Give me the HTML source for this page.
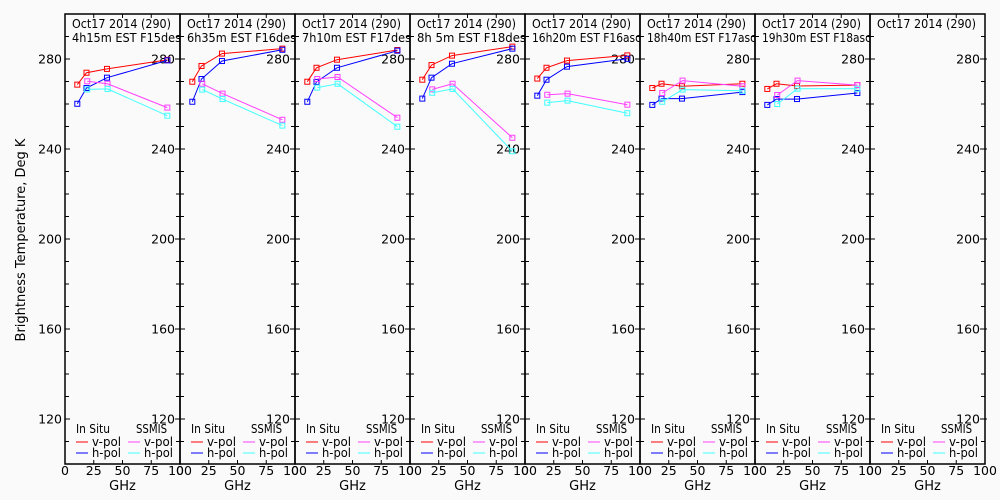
<!DOCTYPE html>
<html><head><meta charset="utf-8"><style>
body{margin:0;background:#fafafa;}
svg{display:block;font-family:"DejaVu Sans","Liberation Sans",sans-serif;}
</style></head><body>
<svg id="chart" width="1000" height="500" viewBox="0 0 1000 500">
<rect x="0" y="0" width="1000" height="500" fill="#fafafa"/>
<text x="25" y="240" font-size="13" text-anchor="middle" transform="rotate(-90 25 240)">Brightness Temperature, Deg K</text>
</svg>
<script>
const panelTitles1 = ["Oct17 2014 (290)","Oct17 2014 (290)","Oct17 2014 (290)","Oct17 2014 (290)","Oct17 2014 (290)","Oct17 2014 (290)","Oct17 2014 (290)","Oct17 2014 (290)"];
const panelTitles2 = ["4h15m EST F15des","6h35m EST F16des","7h10m EST F17des","8h 5m EST F18des","16h20m EST F16asc","18h40m EST F17asc","19h30m EST F18asc",""];
const insituFreq = [10.7, 18.7, 36.5, 89];
const ssmisFreq = [19.35, 37, 89];
const insituV = [[268.6,273.9,275.6,279.6],[269.9,276.9,282.4,284.6],[269.9,276.1,279.7,284],[270.8,277.3,281.5,285.5],[271.3,276.1,279.3,281.6],[267.1,269,267.9,269],[266.7,269,268,268.4],null];
const insituH = [[260.1,267.1,271.7,279.4],[261,271.1,279.1,284.1],[261,269.8,276.1,283.7],[262.4,271.7,277.9,284.6],[263.7,270.8,276.6,280.1],[259.6,262.4,262.4,265.3],[259.6,262.2,262.2,264.9],null];
const ssmisV = [[270.1,269,258.4],[269,264.6,253],[271.1,272,253.9],[266.5,269,245],[264.1,264.6,259.7],[264.9,270.4,267.9],[264,270.4,268.4],null];
const ssmisH = [[266.5,266.7,254.8],[266.4,262.2,250.4],[267.3,269,249.9],[265,266.7,239],[260.6,261.5,255.9],[261,266.4,265.9],[260,266.8,266.8],null];
const yTickLabels = [120,160,200,240,280];
const xTickLabels = [0,25,50,75,100];

const svg = document.getElementById('chart');
const NS = 'http://www.w3.org/2000/svg';
const X0 = 65, PW = 115, TOP = 14, BOT = 464;
const yScale = v => TOP + (300 - v) * (BOT - TOP) / 200;
const xScale = (p, f) => X0 + p * PW + f * PW / 100;
function mk(tag, attrs, parent) {
  const e = document.createElementNS(NS, tag);
  for (const k in attrs) e.setAttribute(k, attrs[k]);
  (parent || svg).appendChild(e);
  return e;
}
const colors = {iv:'#ff0000', ih:'#0000ff', sv:'#ff40ff', sh:'#40ffff'};

for (let p = 0; p < 8; p++) {
  const g = mk('g', {});
  
  
  const L = X0 + p * PW, R = L + PW;
  const frame = mk('rect', {x: L, y: TOP, width: PW, height: BOT - TOP, fill: 'none', stroke: '#000', 'stroke-width': 1.5}, g);
  
  
  for (let v = 110; v <= 290; v += 10) {
    const y = yScale(v);
    const len = (v % 40 === 0) ? 5 : 4;
    mk('line', {x1: L, x2: L + len, y1: y, y2: y, stroke: '#000'}, g);
    mk('line', {x1: R - len, x2: R + (v % 40 === 0 ? 2 : 0), y1: y, y2: y, stroke: '#000'}, g);
  }
  yTickLabels.forEach(v => {
    const t = mk('text', {x: R - 5, y: yScale(v) + 4.5, 'font-size': 12.5, 'text-anchor': 'end'}, g);
    
    
    t.textContent = v;
    if (p === 0) {
      const t2 = mk('text', {x: L - 3, y: yScale(v) + 4.5, 'font-size': 12.5, 'text-anchor': 'end'}, g);
      
      
      t2.textContent = v;
    }
  });
  xTickLabels.forEach(f => {
    const x = xScale(p, f);
    mk('line', {x1: x, x2: x, y1: BOT, y2: BOT - 4, stroke: '#000'}, g);
    mk('line', {x1: x, x2: x, y1: TOP, y2: TOP + 4, stroke: '#000'}, g);
    const t = mk('text', {x: x, y: 475, 'font-size': 12.5, 'text-anchor': 'middle'}, g);
    
    
    t.textContent = f;
  });
  const gx = mk('text', {x: L + PW / 2, y: 490, 'font-size': 13, 'text-anchor': 'middle'}, g);
  
  
  gx.textContent = 'GHz';
  const t1 = mk('text', {x: L + 7, y: 28, 'font-size': 12, textLength: 99, lengthAdjust: 'spacingAndGlyphs'}, g);
  
  
  t1.textContent = panelTitles1[p];
  const t2 = mk('text', {x: L + 7, y: 42, 'font-size': 12}, g);
  
  
  if (panelTitles2[p]) { t2.setAttribute('textLength', 109); t2.setAttribute('lengthAdjust', 'spacingAndGlyphs'); }
  t2.textContent = panelTitles2[p];
  const series = [[insituFreq, insituV[p], colors.iv, 'insitu-vpol'], [insituFreq, insituH[p], colors.ih, 'insitu-hpol'], [ssmisFreq, ssmisV[p], colors.sv, 'ssmis-vpol'], [ssmisFreq, ssmisH[p], colors.sh, 'ssmis-hpol']];
  series.forEach(([fr, vals, col, nm]) => {
    if (!vals) return;
    const pts = vals.map((v, i) => xScale(p, fr[i]).toFixed(1) + ',' + yScale(v).toFixed(1)).join(' ');
    const pl = mk('polyline', {points: pts, fill: 'none', stroke: col, 'stroke-width': 1}, g);
    
    
    vals.forEach((v, i) => {
      const m = mk('rect', {x: xScale(p, fr[i]) - 2.5, y: yScale(v) - 2.5, width: 5, height: 5, fill: 'none', stroke: col, 'stroke-width': 1}, g);
      
      
    });
  });
  const lg = mk('g', {}, g);
  
  
  const h1 = mk('text', {x: L + 11, y: 433, 'font-size': 12, textLength: 34, lengthAdjust: 'spacingAndGlyphs'}, lg); h1.textContent = 'In Situ';
  
  
  const h2 = mk('text', {x: L + 71, y: 433, 'font-size': 12, textLength: 31, lengthAdjust: 'spacingAndGlyphs'}, lg); h2.textContent = 'SSMIS';
  
  
  [['v-pol', colors.iv, 11, 442], ['h-pol', colors.ih, 11, 453], ['v-pol', colors.sv, 63, 442], ['h-pol', colors.sh, 63, 453]].forEach(([lab, col, dx, y]) => {
    mk('line', {x1: L + dx, x2: L + dx + 12, y1: y, y2: y, stroke: col}, lg);
    const t = mk('text', {x: L + dx + 16, y: y + 4, 'font-size': 12, textLength: 29, lengthAdjust: 'spacingAndGlyphs'}, lg);
    
    
    t.textContent = lab;
  });
}
</script>
</body></html>
